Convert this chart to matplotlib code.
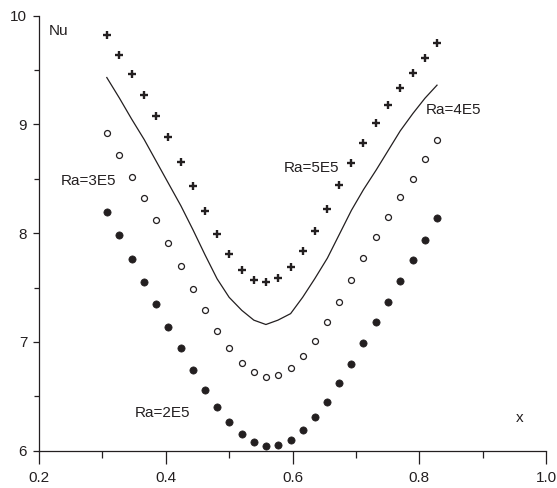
import matplotlib
matplotlib.use("Agg")
import matplotlib.pyplot as plt
from matplotlib.ticker import MultipleLocator

# x positions of the computed points
x = [0.307, 0.327, 0.346, 0.366, 0.385, 0.404, 0.424, 0.443, 0.462, 0.481,
     0.500, 0.520, 0.539, 0.558, 0.577, 0.597, 0.616, 0.635, 0.655, 0.674,
     0.693, 0.712, 0.732, 0.751, 0.770, 0.790, 0.809, 0.828]

nu_ra2e5 = [8.19, 7.98, 7.76, 7.55, 7.35, 7.14, 6.94, 6.74, 6.56, 6.40,
            6.26, 6.15, 6.08, 6.04, 6.05, 6.10, 6.19, 6.31, 6.45, 6.62,
            6.80, 6.99, 7.18, 7.37, 7.56, 7.75, 7.94, 8.14]

nu_ra3e5 = [8.92, 8.72, 8.52, 8.32, 8.12, 7.91, 7.70, 7.49, 7.29, 7.10,
            6.94, 6.81, 6.72, 6.68, 6.70, 6.76, 6.87, 7.01, 7.18, 7.37,
            7.57, 7.77, 7.96, 8.15, 8.33, 8.50, 8.68, 8.86]

nu_ra4e5 = [9.43, 9.24, 9.05, 8.86, 8.66, 8.46, 8.25, 8.03, 7.80, 7.58,
            7.41, 7.29, 7.20, 7.16, 7.20, 7.26, 7.41, 7.58, 7.77, 7.99,
            8.21, 8.40, 8.58, 8.76, 8.94, 9.10, 9.24, 9.36]

nu_ra5e5 = [9.82, 9.64, 9.46, 9.27, 9.08, 8.88, 8.65, 8.43, 8.20, 7.99,
            7.81, 7.66, 7.57, 7.55, 7.59, 7.69, 7.84, 8.02, 8.22, 8.44,
            8.64, 8.83, 9.01, 9.18, 9.33, 9.47, 9.61, 9.75]

series_labels = ["Ra=2E5", "Ra=3E5", "Ra=4E5", "Ra=5E5"]
x_ticks = [0.2, 0.4, 0.6, 0.8, 1.0]
x_tick_labels = ["0.2", "0.4", "0.6", "0.8", "1.0"]
y_ticks = [6, 7, 8, 9, 10]
y_tick_labels = ["6", "7", "8", "9", "10"]

ink = "#231f20"
plt.rcParams["font.family"] = ["Liberation Sans", "DejaVu Sans"]
plt.rcParams["font.size"] = 11

fig = plt.figure(figsize=(5.57, 4.88), dpi=100)
ax = fig.add_axes([0.0700, 0.0764, 0.9103, 0.8918])

ax.plot(x, nu_ra2e5, linestyle="none", marker="o", ms=5.2, mfc=ink, mec=ink, mew=0.5)
ax.plot(x, nu_ra3e5, linestyle="none", marker="o", ms=4.3, mfc="white", mec=ink, mew=0.9)
ax.plot(x, nu_ra4e5, linestyle="-", color=ink, lw=0.9)
ax.plot(x, nu_ra5e5, linestyle="none", marker="+", ms=5.8, mec=ink, mew=1.7)

ax.set_xlim(0.2, 1.0)
ax.set_ylim(6, 10)
ax.set_xticks(x_ticks)
ax.set_xticklabels(x_tick_labels)
ax.set_yticks(y_ticks)
ax.set_yticklabels(y_tick_labels)
ax.xaxis.set_minor_locator(MultipleLocator(0.1))
ax.yaxis.set_minor_locator(MultipleLocator(0.5))

for s in ["top", "right"]:
    ax.spines[s].set_visible(False)
for s in ["left", "bottom"]:
    ax.spines[s].set_color(ink)
    ax.spines[s].set_linewidth(0.9)

ax.tick_params(axis="x", which="major", length=9.5, width=0.9, color=ink,
               labelcolor=ink, labelsize=11, pad=5)
ax.tick_params(axis="x", which="minor", length=5, width=0.9, color=ink)
ax.tick_params(axis="y", which="major", length=4, width=0.9, color=ink,
               labelcolor=ink, labelsize=11, pad=4.5)
ax.tick_params(axis="y", which="minor", length=3.5, width=0.9, color=ink)

# annotations
ax.text(0.216, 9.857, "Nu", color=ink, fontsize=11, ha="left", va="center")
ax.text(0.958, 6.30, "x", color=ink, fontsize=11, ha="center", va="center")
ax.text(0.3515, 6.346, series_labels[0], color=ink, fontsize=11, ha="left", va="center")
ax.text(0.2347, 8.479, series_labels[1], color=ink, fontsize=11, ha="left", va="center")
ax.text(0.8104, 9.131, series_labels[2], color=ink, fontsize=11, ha="left", va="center")
ax.text(0.5856, 8.596, series_labels[3], color=ink, fontsize=11, ha="left", va="center")

fig.savefig("out.png", dpi=100)
